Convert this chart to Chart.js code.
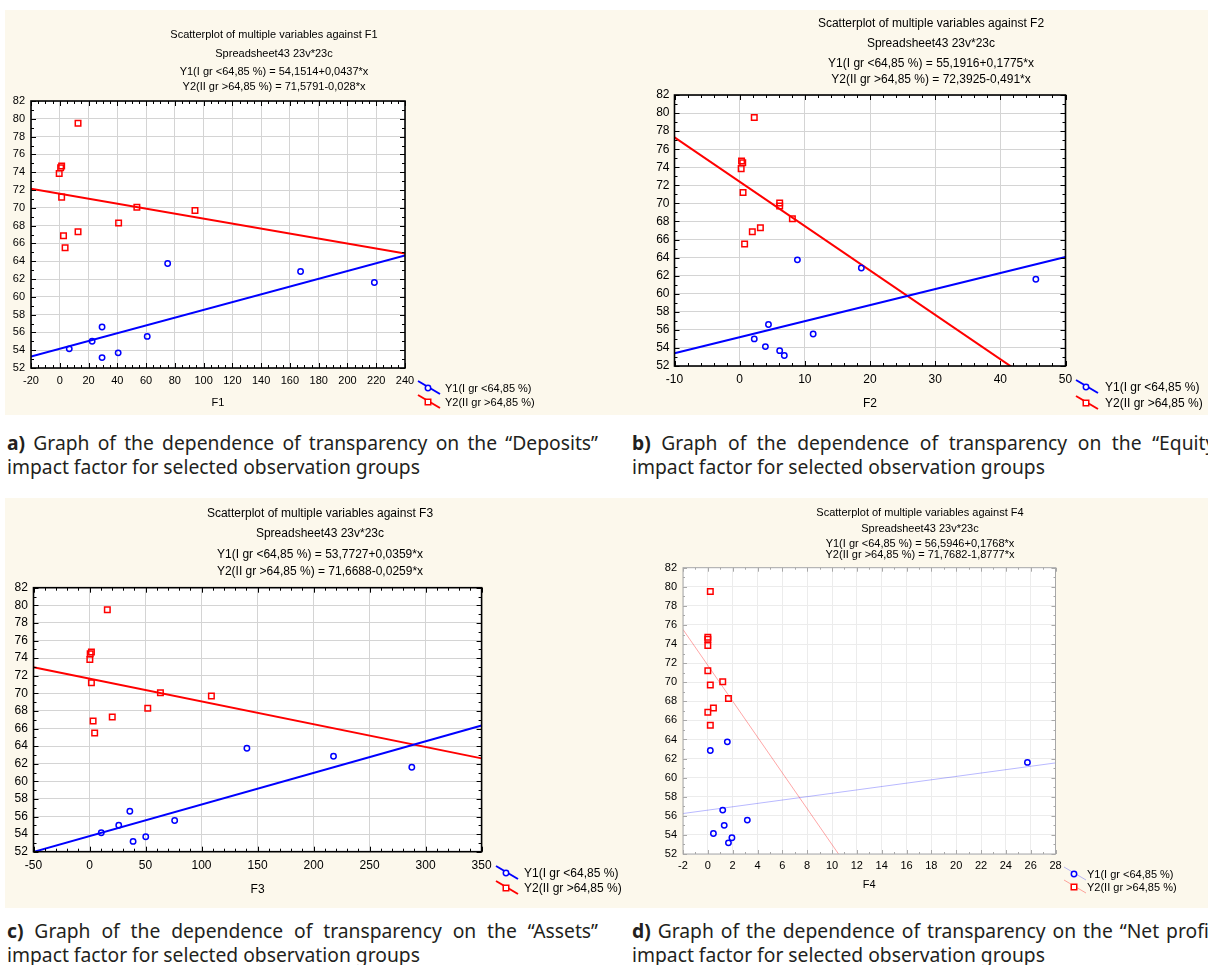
<!DOCTYPE html>
<html>
<head>
<meta charset="utf-8">
<script src="https://cdn.jsdelivr.net/npm/chart.js@4.4.1/dist/chart.umd.min.js"></script>
<style>
    html, body { margin: 0; padding: 0; background: #fff; width: 1208px; height: 965px; overflow: hidden; position: relative; }
    .bg { position: absolute; background: #fcf8ec; }
    canvas { position: absolute; }
    .ttl { position: absolute; transform: translate(-50%, -50%); white-space: nowrap; font-family: 'Liberation Sans', Arial, sans-serif; color: #000; line-height: 1; }
    .cap { position: absolute; font-family: 'Noto Sans', 'Open Sans', sans-serif; font-size: 17px; line-height: 24px; white-space: nowrap; color: #231f20; }
    .cap .l1 { width: 591px; text-align: justify; text-align-last: justify; }
</style>
</head>
<body>
<div class="bg" style="left:5px;top:10px;width:1203px;height:405px"></div>
<div class="bg" style="left:5px;top:498px;width:1203px;height:410px"></div>

<div class="cap" style="left:7px;top:431px"><div class="l1"><b>a)</b> Graph of the dependence of transparency on the “Deposits”</div><div><span class="l2">impact factor for selected observation groups</span></div></div>
<div class="cap" style="left:632px;top:431px"><div class="l1"><b>b)</b> Graph of the dependence of transparency on the “Equity”</div><div><span class="l2">impact factor for selected observation groups</span></div></div>
<div class="cap" style="left:7px;top:919px"><div class="l1"><b>c)</b> Graph of the dependence of transparency on the “Assets”</div><div><span class="l2">impact factor for selected observation groups</span></div></div>
<div class="cap" style="left:632px;top:919px"><div class="l1"><b>d)</b> Graph of the dependence of transparency on the “Net profit”</div><div><span class="l2">impact factor for selected observation groups</span></div></div>

<script>
// Transparency values of the two observation groups (same banks in every panel)
const yLow = [63.75, 62.85, 61.6, 56.6, 55.55, 55.0, 54.15, 53.7, 53.17];
const yHigh = [79.5, 74.7, 74.5, 73.85, 71.2, 70.05, 69.7, 68.3, 67.3, 66.85, 65.5];

// Factor values, same order as yLow / yHigh
const f1Low = [75, 167.4, 218.7, 29.4, 60.8, 22.5, 6.6, 40.6, 29.4];
const f1High = [12.7, 1.3, 0.6, -0.4, 1.3, 53.6, 94.0, 40.9, 12.7, 2.6, 3.7];
const f2Low = [8.86, 18.67, 45.45, 4.42, 11.28, 2.24, 3.95, 6.14, 6.85];
const f2High = [2.24, 0.29, 0.47, 0.23, 0.52, 6.14, 6.14, 8.09, 3.18, 1.94, 0.76];
const f3Low = [140.5, 217.8, 287.7, 36, 76, 26.1, 10.5, 50.2, 38.9];
const f3High = [15.9, 1.7, 0.6, 0.3, 1.7, 63.3, 108.8, 52, 20.3, 3.2, 4.6];
const f4Low = [1.57, 0.2, 25.74, 1.2, 3.18, 1.32, 0.45, 1.94, 1.66];
const f4High = [0.2, 0, 0, 0, 0, 1.2, 0.2, 1.66, 0.45, 0, 0.2];

// Fitted lines from the chart titles
const lowIntercept = [54.1514, 55.1916, 53.7727, 56.5946];
const lowSlope = [0.0437, 0.1775, 0.0359, 0.1768];
const highIntercept = [71.5791, 72.3925, 71.6688, 71.7682];
const highSlope = [-0.028, -0.491, -0.0259, -1.8777];

// Axes
const factorNames = ['F1', 'F2', 'F3', 'F4'];
const xMin = [-20, -10, -50, -2];
const xMax = [240, 50, 350, 28];
const xStep = [20, 10, 50, 2];
const xMinor = [5, 2, 10, 1];
const yMin = 52, yMax = 82, yStep = 2, yMinor = 1;

const lowLabel = 'Y1(I gr <64,85 %)';
const highLabel = 'Y2(II gr >64,85 %)';

const lowX = [f1Low, f2Low, f3Low, f4Low];
const highX = [f1High, f2High, f3High, f4High];

const FONT = "'Liberation Sans', Arial, sans-serif";
const BLUE = '#0000ff';
const RED = '#ff0000';

// layout of each panel on the page
const panels = [
    { left: 0, top: 0, width: 632, height: 420,
      pad: { left: 5, top: 101, right: 227, bottom: 10 }, yAxisW: 26, xAxisH: 42,
      font: 11, titleFont: 11, titleX: 274, titleY: [34, 53, 71, 86],
      xPad: 6, yPad: 6, legX: 428, legY: [388, 402], legTextX: 445, faint: false },
    { left: 632, top: 0, width: 576, height: 420,
      pad: { left: 12.5, top: 95, right: 142.5, bottom: 9 }, yAxisW: 30, xAxisH: 45,
      font: 12, titleFont: 12, titleX: 931, titleY: [23, 43, 63, 79],
      xPad: 6, yPad: 5, legX: 454, legY: [387, 403], legTextX: 473, faint: false },
    { left: 0, top: 490, width: 632, height: 420,
      pad: { left: 5.5, top: 97.7, right: 150.4, bottom: 13.1 }, yAxisW: 28, xAxisH: 45.2,
      font: 12, titleFont: 12, titleX: 320, titleY: [513, 533, 554, 571],
      xPad: 7, yPad: 5.7, legX: 506, legY: [383, 398], legTextX: 524, faint: false },
    { left: 632, top: 490, width: 576, height: 420,
      pad: { left: 16, top: 77.7, right: 152.5, bottom: 18.7 }, yAxisW: 35, xAxisH: 37.3,
      font: 11, titleFont: 11, titleX: 920, titleY: [512, 528, 543, 554],
      xPad: 5.7, yPad: 6, legX: 442, legY: [384, 397], legTextX: 455, faint: true }
];

function fmt(v) {
    return String(v).replace('.', ',');
}

function eqText(label, a, b) {
    return label + ' = ' + fmt(a) + (b < 0 ? '-' : '+') + fmt(Math.abs(b)) + '*x';
}

function addTitles(i) {
    const p = panels[i];
    const lines = [
        'Scatterplot of multiple variables against  ' + factorNames[i],
        'Spreadsheet43 23v*23c',
        eqText(lowLabel, lowIntercept[i], lowSlope[i]),
        eqText(highLabel, highIntercept[i], highSlope[i])
    ];
    lines.forEach((t, k) => {
        const d = document.createElement('div');
        d.className = 'ttl';
        d.style.left = p.titleX + 'px';
        d.style.top = p.titleY[k] + 'px';
        d.style.fontSize = p.titleFont + 'px';
        d.textContent = t;
        document.body.appendChild(d);
    });
}

// size the captions so the second line is as wide as in the figure (~413px)
function fitCaptions() {
    const probe = document.querySelector('.cap .l2');
    const w = probe.getBoundingClientRect().width;
    if (w > 0) {
        const size = 17 * 413 / w;
        document.querySelectorAll('.cap').forEach(c => { c.style.fontSize = size.toFixed(2) + 'px'; });
    }
}

function isMultiple(v, step) {
    const r = Math.abs(v / step - Math.round(v / step));
    return r < 1e-6;
}

// white plot area, frame with inward ticks, and the legend
function paperPlugin(i) {
    const p = panels[i];
    const frameColor = p.faint ? '#a8a8a8' : '#000';
    return {
        id: 'paper' + i,
        beforeDraw(chart) {
            const { ctx, chartArea: a } = chart;
            ctx.save();
            ctx.fillStyle = '#fff';
            ctx.fillRect(a.left, a.top, a.right - a.left, a.bottom - a.top);
            ctx.restore();
        },
        afterDraw(chart) {
            const { ctx, chartArea: a } = chart;
            const xs = chart.scales.x, ys = chart.scales.y;
            const major = p.faint ? 4 : 5, minor = p.faint ? 2 : 3;
            ctx.save();
            ctx.strokeStyle = frameColor;
            ctx.lineWidth = 1;
            ctx.beginPath();
            for (let v = xMin[i]; v <= xMax[i] + 1e-9; v += xMinor[i]) {
                const px = Math.round(xs.getPixelForValue(v)) + 0.5;
                const len = isMultiple(v, xStep[i]) ? major : minor;
                ctx.moveTo(px, a.top); ctx.lineTo(px, a.top + len);
                ctx.moveTo(px, a.bottom); ctx.lineTo(px, a.bottom - len);
            }
            for (let v = yMin; v <= yMax + 1e-9; v += yMinor) {
                const py = Math.round(ys.getPixelForValue(v)) + 0.5;
                const len = isMultiple(v, yStep) ? major : minor;
                ctx.moveTo(a.left, py); ctx.lineTo(a.left + len, py);
                ctx.moveTo(a.right, py); ctx.lineTo(a.right - len, py);
            }
            ctx.stroke();
            ctx.lineWidth = p.faint ? 1 : 1.6;
            ctx.strokeRect(a.left, a.top, a.right - a.left, a.bottom - a.top);

            // legend: diagonal line with the marker on it
            const ds = chart.data.datasets;
            [0, 1].forEach(k => {
                const mx = p.legX, my = p.legY[k];
                ctx.strokeStyle = ds[k + 2].borderColor;
                ctx.lineWidth = ds[k + 2].borderWidth;
                ctx.beginPath();
                ctx.moveTo(mx - 10, my - 7);
                ctx.lineTo(mx + 12, my + 6);
                ctx.stroke();
                ctx.strokeStyle = ds[k].pointBorderColor;
                ctx.lineWidth = ds[k].pointBorderWidth;
                ctx.beginPath();
                if (ds[k].pointStyle === 'rect') {
                    const s = ds[k].pointRadius * Math.SQRT1_2;
                    ctx.rect(mx - s, my - s, 2 * s, 2 * s);
                } else {
                    ctx.arc(mx, my, ds[k].pointRadius, 0, Math.PI * 2);
                }
                ctx.fillStyle = '#fff';
                ctx.fill();
                ctx.stroke();
                ctx.fillStyle = '#000';
                ctx.font = p.font + 'px ' + FONT;
                ctx.textBaseline = 'middle';
                ctx.textAlign = 'left';
                ctx.fillText(ds[k].label, p.legTextX, my + 1);
            });
            ctx.restore();
        }
    };
}

function buildChart(i) {
    const p = panels[i];
    const canvas = document.createElement('canvas');
    canvas.width = p.width;
    canvas.height = p.height;
    canvas.style.left = p.left + 'px';
    canvas.style.top = p.top + 'px';
    document.body.appendChild(canvas);

    const lowPts = lowX[i].map((x, k) => ({ x: x, y: yLow[k] }));
    const highPts = highX[i].map((x, k) => ({ x: x, y: yHigh[k] }));
    const ends = [xMin[i], xMax[i]];
    const lowLine = ends.map(x => ({ x: x, y: lowIntercept[i] + lowSlope[i] * x }));
    const highLine = ends.map(x => ({ x: x, y: highIntercept[i] + highSlope[i] * x }));

    const gridColor = p.faint ? '#ececec' : '#d4d4d4';
    const tickFont = { family: FONT, size: p.font };

    new Chart(canvas, {
        type: 'scatter',
        data: {
            datasets: [
                { label: lowLabel, data: lowPts, pointStyle: 'circle', pointRadius: 2.7,
                  pointBorderColor: BLUE, pointBackgroundColor: 'rgba(0,0,0,0)', pointBorderWidth: 1.5 },
                { label: highLabel, data: highPts, pointStyle: 'rect', pointRadius: 3.9,
                  pointBorderColor: RED, pointBackgroundColor: 'rgba(0,0,0,0)', pointBorderWidth: 1.5 },
                { label: 'fit1', data: lowLine, showLine: true, pointRadius: 0,
                  borderColor: p.faint ? 'rgba(0,0,255,0.28)' : BLUE, borderWidth: p.faint ? 1 : 2 },
                { label: 'fit2', data: highLine, showLine: true, pointRadius: 0,
                  borderColor: p.faint ? 'rgba(255,0,0,0.35)' : RED, borderWidth: p.faint ? 1 : 2 }
            ]
        },
        options: {
            responsive: false,
            animation: false,
            devicePixelRatio: 1,
            layout: { padding: p.pad },
            plugins: {
                legend: { display: false },
                tooltip: { enabled: false }
            },
            scales: {
                x: {
                    type: 'linear',
                    min: xMin[i],
                    max: xMax[i],
                    ticks: { stepSize: xStep[i], autoSkip: false, maxRotation: 0, padding: p.xPad, color: '#000', font: tickFont },
                    grid: { color: gridColor, lineWidth: 1, drawTicks: false },
                    border: { display: false },
                    title: { display: true, text: factorNames[i], color: '#000', font: tickFont, padding: 0 },
                    afterFit: s => { s.height = p.xAxisH; }
                },
                y: {
                    type: 'linear',
                    min: yMin,
                    max: yMax,
                    ticks: { stepSize: yStep, autoSkip: false, padding: p.yPad, color: '#000', font: tickFont },
                    grid: { color: gridColor, lineWidth: 1, drawTicks: false },
                    border: { display: false },
                    afterFit: s => { s.width = p.yAxisW; }
                }
            }
        },
        plugins: [paperPlugin(i)]
    });
}

fitCaptions();
for (let i = 0; i < 4; i++) {
    buildChart(i);
    addTitles(i);
}
</script>
</body>
</html>
